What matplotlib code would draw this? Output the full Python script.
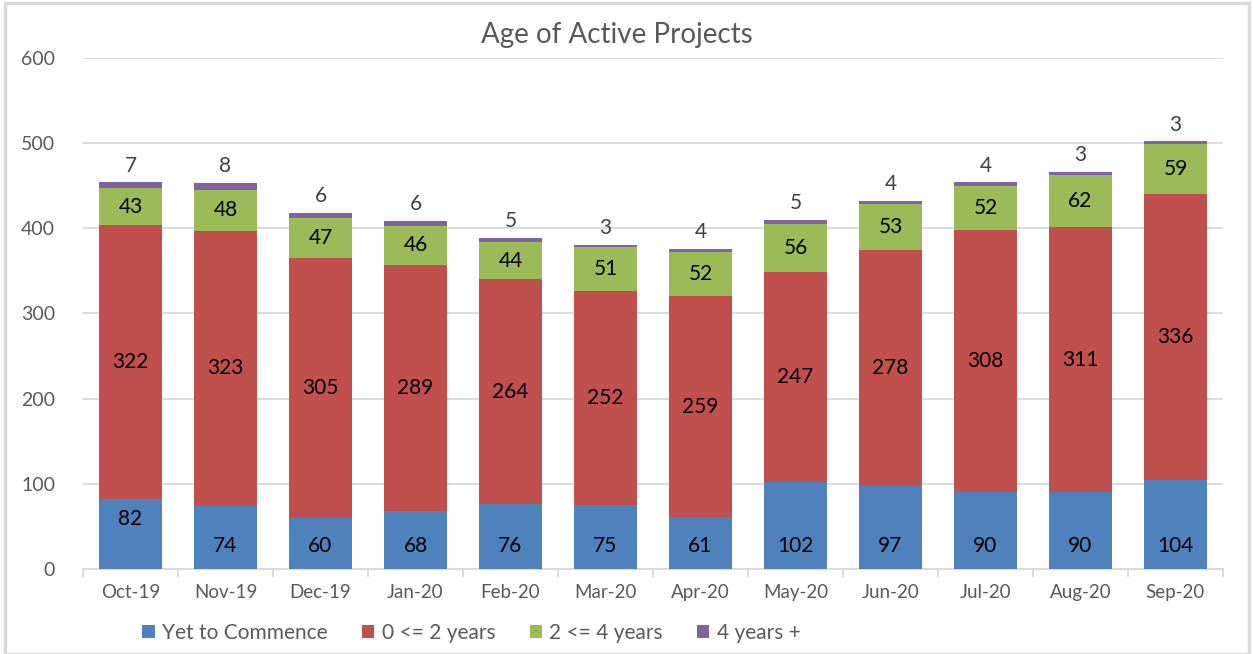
import numpy as np
import matplotlib.pyplot as plt
from matplotlib.patches import Rectangle

months = ["Oct-19", "Nov-19", "Dec-19", "Jan-20", "Feb-20", "Mar-20",
          "Apr-20", "May-20", "Jun-20", "Jul-20", "Aug-20", "Sep-20"]
yet_to_commence = [82, 74, 60, 68, 76, 75, 61, 102, 97, 90, 90, 104]
zero_to_two = [322, 323, 305, 289, 264, 252, 259, 247, 278, 308, 311, 336]
two_to_four = [43, 48, 47, 46, 44, 51, 52, 56, 53, 52, 62, 59]
four_plus = [7, 8, 6, 6, 5, 3, 4, 5, 4, 4, 3, 3]

series = [
    ("Yet to Commence", yet_to_commence, "#4F81BD"),
    ("0 <= 2 years", zero_to_two, "#C0504D"),
    ("2 <= 4 years", two_to_four, "#9BBB59"),
    ("4 years +", four_plus, "#8064A2"),
]

# blue labels sit near the bar base in the original, except the first one
blue_label_y = [59, 27, 27, 27, 27, 27, 27, 27, 27, 27, 27, 27]

plt.rcParams["font.family"] = ["Lato", "DejaVu Sans"]

fig = plt.figure(figsize=(12.53, 6.54), dpi=100)
ax = fig.add_axes([0.0662, 0.13, 0.9098, 0.7813])

x = np.arange(len(months))
bottom = np.zeros(len(months))
for i, (name, vals, color) in enumerate(series):
    vals = np.array(vals, dtype=float)
    ax.bar(x, vals, 0.66, bottom=bottom, color=color, label=name, zorder=3)
    if i == 0:
        for xi, ly, v in zip(x, blue_label_y, vals):
            ax.text(xi, ly, f"{int(v)}", ha="center", va="center",
                    fontsize=15, color="black", zorder=4)
    elif i < 3:
        for xi, b, v in zip(x, bottom, vals):
            ax.text(xi, b + v / 2, f"{int(v)}", ha="center", va="center",
                    fontsize=15, color="black", zorder=4)
    else:
        for xi, b, v in zip(x, bottom, vals):
            ax.text(xi, b + v + 8, f"{int(v)}", ha="center", va="bottom",
                    fontsize=15, color="#404040", zorder=4)
    bottom += vals

ax.set_xlim(-0.5, len(months) - 0.5)
ax.set_ylim(0, 600)
ax.set_yticks(range(0, 601, 100))
ax.yaxis.grid(True, color="#D9D9D9", linewidth=1.3, zorder=0)
ax.set_axisbelow(True)
for s in ["top", "right", "left"]:
    ax.spines[s].set_visible(False)
ax.spines["bottom"].set_color("#D9D9D9")
ax.spines["bottom"].set_linewidth(1.3)

ax.set_xticks(x)
ax.set_xticklabels(months)
ax.set_xticks(np.arange(-0.5, len(months), 1), minor=True)
ax.tick_params(axis="x", which="major", length=0, pad=11, labelsize=13.5, colors="#595959")
ax.tick_params(axis="x", which="minor", length=6, color="#D9D9D9", width=1.3)
ax.tick_params(axis="y", length=0, pad=20, labelsize=14, colors="#595959")

fig.text(617 / 1253, 1 - 35 / 654, "Age of Active Projects", ha="center", va="center",
         fontsize=20, color="#595959")

fig.legend(loc="center left", bbox_to_anchor=(132 / 1253, 1 - 633 / 654), ncol=4,
           frameon=False, borderpad=0, fontsize=15, handlelength=0.58,
           handleheight=0.58, handletextpad=0.36, columnspacing=1.65,
           labelcolor="#595959")

fig.patches.append(Rectangle((0.004, 0.0), 0.993, 0.995, transform=fig.transFigure,
                             fill=False, edgecolor="#D9D9D9", linewidth=2.5))

fig.savefig("out.png", dpi=100)
